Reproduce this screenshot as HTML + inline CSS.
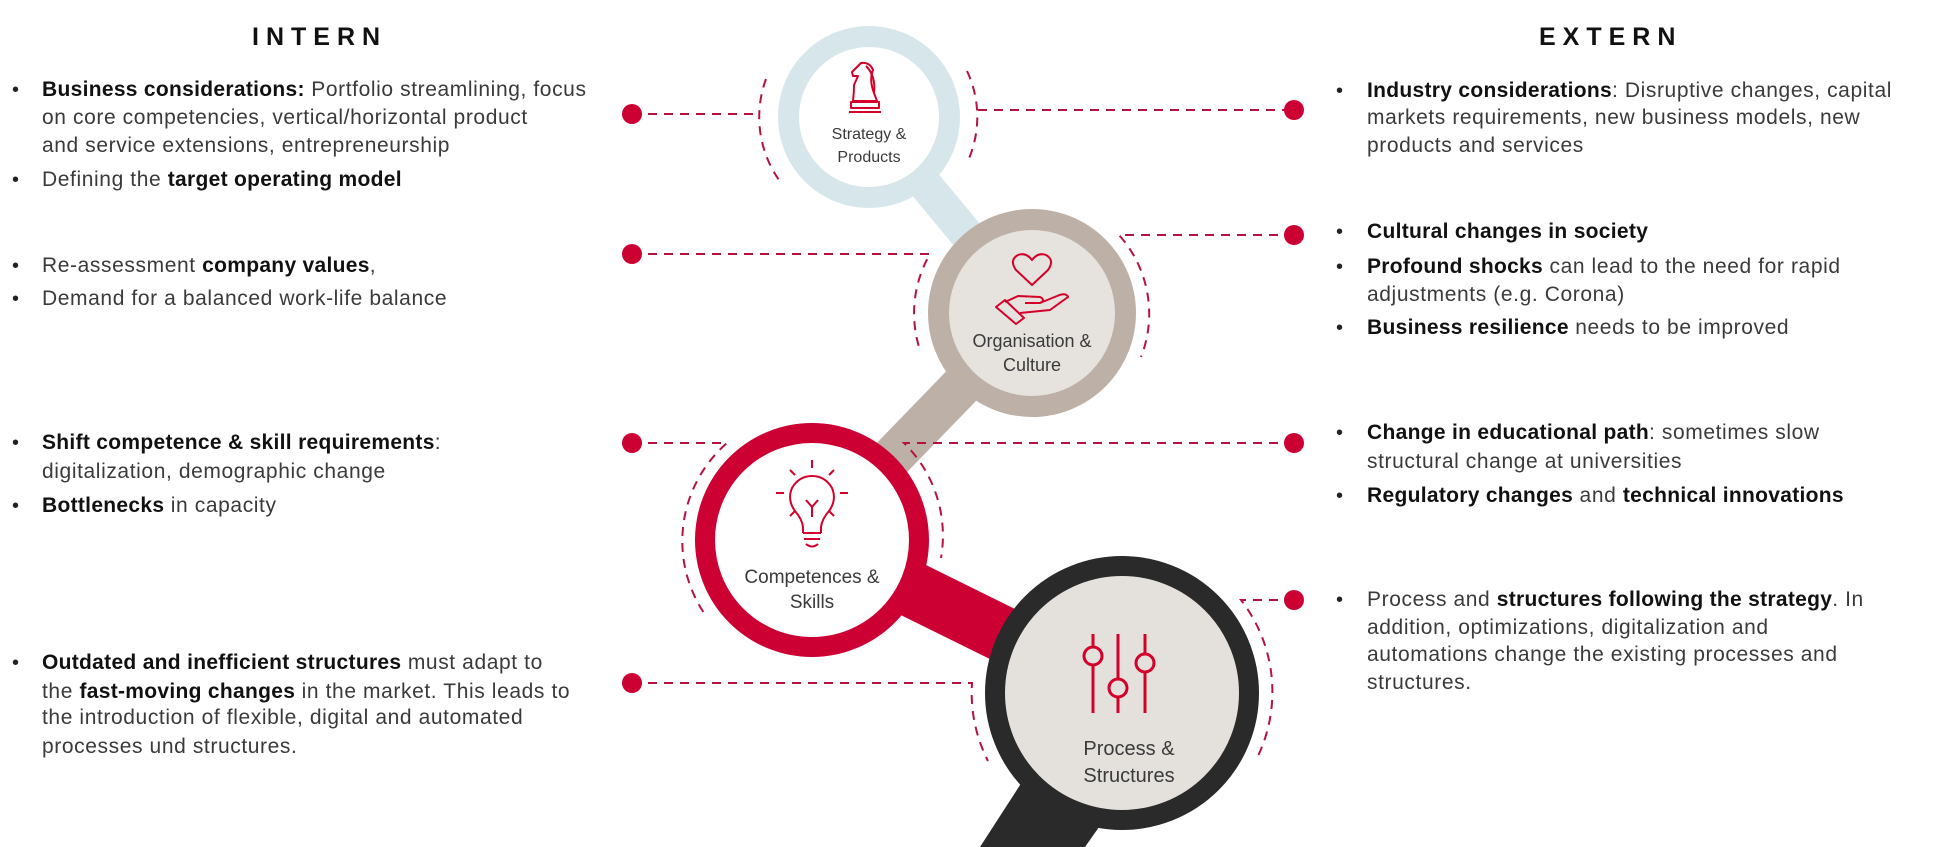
<!DOCTYPE html>
<html><head><meta charset="utf-8"><style>
html,body{margin:0;padding:0;background:#fff;width:1936px;height:847px;overflow:hidden;}
body{position:relative;font-family:"Liberation Sans",sans-serif;}
.t{position:absolute;font-size:21px;letter-spacing:0.6px;line-height:22px;color:#3a3a3a;white-space:nowrap;}
.t b{color:#111;font-weight:bold;letter-spacing:0.3px;}
.bl{position:absolute;font-size:20px;line-height:22px;color:#222;}
.h{position:absolute;font-size:25px;font-weight:bold;letter-spacing:7px;color:#111;line-height:28px;}
svg{position:absolute;left:0;top:0;overflow:hidden;}
</style></head><body>
<svg width="1936" height="847" viewBox="0 0 1936 847">
<g stroke-linecap="butt">
<line x1="869" y1="117" x2="1032" y2="313" stroke="#d7e6ea" stroke-width="34"/>
<line x1="1032" y1="313" x2="812" y2="540" stroke="#bdb0a7" stroke-width="42"/>
<line x1="812" y1="540" x2="1122" y2="693" stroke="#cc0033" stroke-width="56"/>
</g>
<polygon points="1075,700 1160,740 1085,847 980,847" fill="#2a2a2a"/>
<circle cx="869" cy="117" r="80.5" fill="#fff" stroke="#d7e6ea" stroke-width="21"/>
<circle cx="1032" cy="313" r="93.5" fill="#e6e2de" stroke="#bdb0a7" stroke-width="21"/>
<circle cx="812" cy="540" r="107" fill="#fff" stroke="#cc0033" stroke-width="20"/>
<circle cx="1122" cy="693" r="127" fill="#e4e1dd" stroke="#2a2a2a" stroke-width="20"/>
<g fill="none" stroke="#b5123f" stroke-width="2" stroke-dasharray="9,7">
<path d="M632 114 H760 M766 79 A110 110 0 0 0 779 180"/>
<path d="M967 71 A108 108 0 0 1 967 163 M978 110 H1294"/>
<path d="M632 254 H930 A118 118 0 0 0 919 347"/>
<path d="M1294 235 H1119 A118 118 0 0 1 1141 357"/>
<path d="M632 443 H727 A130 130 0 0 0 704 613"/>
<path d="M1294 443 H904 A130 130 0 0 1 941 558"/>
<path d="M632 683 H972 A150 150 0 0 0 988 761"/>
<path d="M1294 600 H1241 A150 150 0 0 1 1256 760"/>
</g>
<g fill="#cc0033">
<circle cx="632" cy="114" r="10"/><circle cx="632" cy="254" r="10"/><circle cx="632" cy="443" r="10"/><circle cx="632" cy="683" r="10"/>
<circle cx="1294" cy="110" r="10"/><circle cx="1294" cy="235" r="10"/><circle cx="1294" cy="443" r="10"/><circle cx="1294" cy="600" r="10"/>
</g>
<g fill="none" stroke="#d4002a" stroke-width="2" stroke-linejoin="round">
<path d="M853 101 L877 101 L874 93 Q869 80 873 70 Q870 62 861 63 L852 72 L853 76 L858 76 L854 85 Q854 93 853 101 Z"/>
<path d="M866 66 Q876 76 874 93"/>
<rect x="851" y="102" width="28" height="6"/><line x1="849" y1="112" x2="881" y2="112"/>
<path d="M1032 285 L1016 270 Q1009 260 1018 255 Q1026 252 1032 260 Q1038 252 1046 255 Q1055 260 1048 270 Z"/>
<path d="M1005 302 L1018 296 L1040 297 Q1046 300 1040 303 L1025 303 M1040 303 L1057 296 Q1066 292 1068 297 L1050 310 L1020 313"/>
<path d="M996 307 L1005 300 L1024 318 L1016 324 Z"/>
<path d="M803 533 L803 527 Q802 519 795 511 Q787 500 792 488 Q799 476 812 476 Q825 476 832 488 Q837 500 829 511 Q822 519 821 527 L821 533"/>
<path d="M803 533 H821 M804 539 H820 M806 544 Q812 549 818 544"/>
<path d="M812 507 V517 M806 500 L812 507 L818 500"/>
<path d="M812 460 V468 M790 470 L795 475 M834 470 L829 475 M776 493 H784 M840 493 H848 M790 516 L795 511 M834 516 L829 511"/>
<path d="M1093 634 V647 M1093 665 V713 M1118 634 V679 M1118 697 V713 M1145 634 V654 M1145 672 V713" stroke-width="3"/>
<circle cx="1093" cy="656" r="9" stroke-width="3"/><circle cx="1118" cy="688" r="9" stroke-width="3"/><circle cx="1145" cy="663" r="9" stroke-width="3"/>
</g>
<g font-family="Liberation Sans, sans-serif" fill="#3a3a3a" text-anchor="middle">
<text x="869" y="139" font-size="16">Strategy &amp;</text>
<text x="869" y="162" font-size="16">Products</text>
<text x="1032" y="347" font-size="18">Organisation &amp;</text>
<text x="1032" y="371" font-size="18">Culture</text>
<text x="812" y="583" font-size="19">Competences &amp;</text>
<text x="812" y="608" font-size="19">Skills</text>
<text x="1129" y="755" font-size="20">Process &amp;</text>
<text x="1129" y="782" font-size="20">Structures</text>
</g>
</svg>

<div class="h" style="left:252px;top:23px;">INTERN</div>
<div class="h" style="left:1539px;top:23px;">EXTERN</div>

<div class="bl" style="left:12px;top:79px">•</div>
<div class="t" style="left:42px;top:79px"><b>Business considerations:</b> Portfolio streamlining, focus</div>
<div class="t" style="left:42px;top:107px">on core competencies, vertical/horizontal product</div>
<div class="t" style="left:42px;top:135px">and service extensions, entrepreneurship</div>
<div class="bl" style="left:12px;top:169px">•</div>
<div class="t" style="left:42px;top:169px">Defining the <b>target operating model</b></div>

<div class="bl" style="left:12px;top:255px">•</div>
<div class="t" style="left:42px;top:255px">Re-assessment <b>company values</b>,</div>
<div class="bl" style="left:12px;top:288px">•</div>
<div class="t" style="left:42px;top:288px">Demand for a balanced work-life balance</div>

<div class="bl" style="left:12px;top:432px">•</div>
<div class="t" style="left:42px;top:432px"><b>Shift competence &amp; skill requirements</b>:</div>
<div class="t" style="left:42px;top:461px">digitalization, demographic change</div>
<div class="bl" style="left:12px;top:495px">•</div>
<div class="t" style="left:42px;top:495px"><b>Bottlenecks</b> in capacity</div>

<div class="bl" style="left:12px;top:652px">•</div>
<div class="t" style="left:42px;top:652px"><b>Outdated and inefficient structures</b> must adapt to</div>
<div class="t" style="left:42px;top:681px">the <b>fast-moving changes</b> in the market. This leads to</div>
<div class="t" style="left:42px;top:707px">the introduction of flexible, digital and automated</div>
<div class="t" style="left:42px;top:736px">processes und structures.</div>

<div class="bl" style="left:1336px;top:80px">•</div>
<div class="t" style="left:1367px;top:80px"><b>Industry considerations</b>: Disruptive changes, capital</div>
<div class="t" style="left:1367px;top:107px">markets requirements, new business models, new</div>
<div class="t" style="left:1367px;top:135px">products and services</div>

<div class="bl" style="left:1336px;top:221px">•</div>
<div class="t" style="left:1367px;top:221px"><b>Cultural changes in society</b></div>
<div class="bl" style="left:1336px;top:256px">•</div>
<div class="t" style="left:1367px;top:256px"><b>Profound shocks</b> can lead to the need for rapid</div>
<div class="t" style="left:1367px;top:284px">adjustments (e.g. Corona)</div>
<div class="bl" style="left:1336px;top:317px">•</div>
<div class="t" style="left:1367px;top:317px"><b>Business resilience</b> needs to be improved</div>

<div class="bl" style="left:1336px;top:422px">•</div>
<div class="t" style="left:1367px;top:422px"><b>Change in educational path</b>: sometimes slow</div>
<div class="t" style="left:1367px;top:451px">structural change at universities</div>
<div class="bl" style="left:1336px;top:485px">•</div>
<div class="t" style="left:1367px;top:485px"><b>Regulatory changes</b> and <b>technical innovations</b></div>

<div class="bl" style="left:1336px;top:589px">•</div>
<div class="t" style="left:1367px;top:589px">Process and <b>structures following the strategy</b>. In</div>
<div class="t" style="left:1367px;top:617px">addition, optimizations, digitalization and</div>
<div class="t" style="left:1367px;top:644px">automations change the existing processes and</div>
<div class="t" style="left:1367px;top:672px">structures.</div>
</body></html>
